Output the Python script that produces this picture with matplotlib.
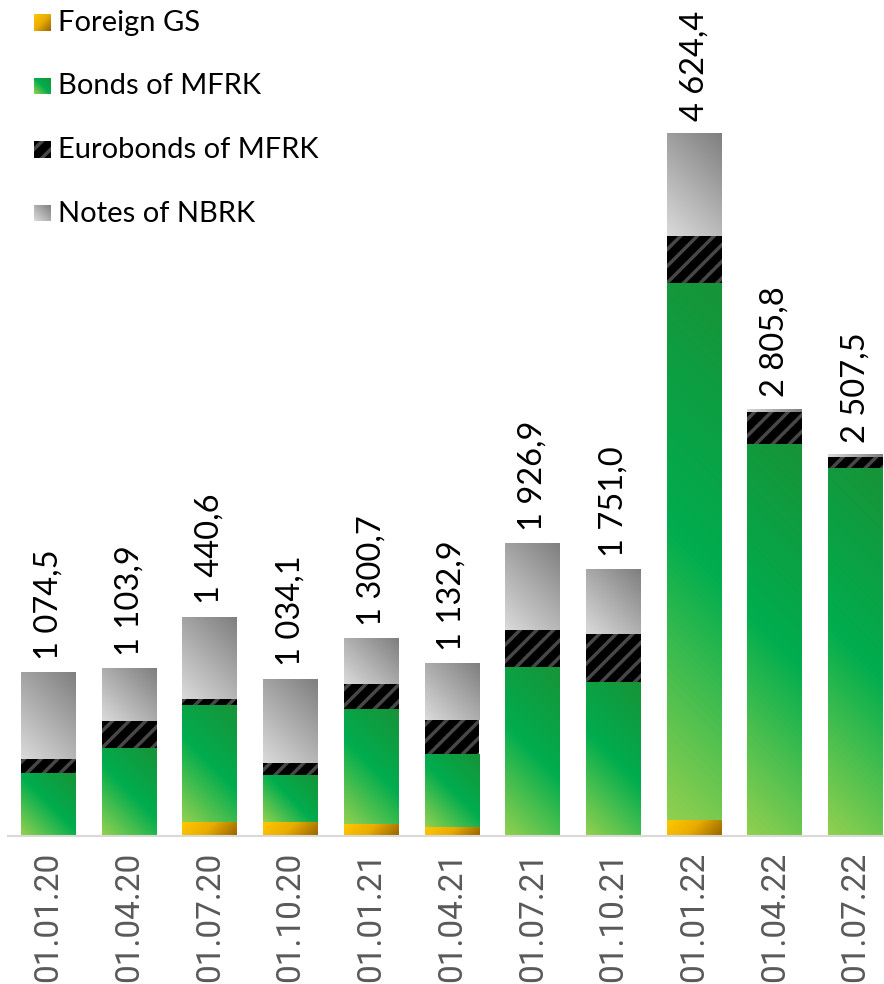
import numpy as np
import matplotlib.pyplot as plt
from matplotlib.colors import to_rgb
from matplotlib.patches import Rectangle

# data (bln tenge)
dates = ['01.01.20', '01.04.20', '01.07.20', '01.10.20', '01.01.21', '01.04.21',
         '01.07.21', '01.10.21', '01.01.22', '01.04.22', '01.07.22']
totals = [1074.5, 1103.9, 1440.6, 1034.1, 1300.7, 1132.9, 1926.9, 1751.0, 4624.4, 2805.8, 2507.5]
foreign_gs = [0, 0, 86, 92, 76, 59, 0, 0, 99, 0, 0]
bonds_mfrk = [415, 577, 777, 310, 758, 481, 1110, 1011, 3542, 2580, 2423]
eurobonds_mfrk = [92, 178, 40, 79, 165, 222, 244, 316, 310, 211, 69]
notes_nbrk = [567, 349, 538, 553, 302, 371, 573, 424, 673, 15, 16]

green_stops = [(0, '#92d050'), (0.5, '#00ad4e'), (1, '#189338')]
gray_stops = [(0, '#dadada'), (1, '#7f7f7f')]
yellow_stops = [(0, '#ffc800'), (0.5, '#e8ac00'), (1, '#9a6800')]

plt.rcParams['hatch.linewidth'] = 2.5


def gradient(w, h, stops, flip=False):
    w = max(int(round(w)), 2)
    h = max(int(round(h)), 2)
    xx, yy = np.meshgrid(np.arange(w), np.arange(h))
    if flip:
        yy = h - 1 - yy
    t = (xx + yy) / (w + h - 2)
    pos = [s[0] for s in stops]
    cols = np.array([to_rgb(s[1]) for s in stops])
    return np.stack([np.interp(t, pos, cols[:, k]) for k in range(3)], axis=-1)


fig = plt.figure(figsize=(8.84, 9.84), dpi=100)
ax = fig.add_axes([8.15 / 884, 148.5 / 984, 887.7 / 884, 835.5 / 984])
ax.set_xlim(-0.5, 10.5)
ax.set_ylim(0, 5507)

x = np.arange(len(dates))
width = 0.68


def grad_seg(xc, y0, h, stops, flip=False):
    if h <= 0:
        return
    x0, x1 = xc - width / 2, xc + width / 2
    (px0, py0), (px1, py1) = ax.transData.transform([(x0, y0), (x1, y0 + h)])
    img = gradient(px1 - px0, py1 - py0, stops, flip)
    ax.imshow(img, extent=[x0, x1, y0, y0 + h], origin='lower', aspect='auto',
              interpolation='bilinear', zorder=2)


for i in x:
    b0 = 0
    grad_seg(i, b0, foreign_gs[i], yellow_stops, flip=True)
    b0 += foreign_gs[i]
    grad_seg(i, b0, bonds_mfrk[i], green_stops)
    b0 += bonds_mfrk[i] + eurobonds_mfrk[i]
    grad_seg(i, b0, notes_nbrk[i], gray_stops)

euro_bottom = np.array(foreign_gs) + np.array(bonds_mfrk)
ax.bar(x, eurobonds_mfrk, width, bottom=euro_bottom, color='black',
       edgecolor='#474747', hatch='//', linewidth=0, zorder=2)

ax.set_xlim(-0.5, 10.5)
ax.set_ylim(0, 5507)

# value labels
for i, v in enumerate(totals):
    s = f"{v:,.1f}".replace(',', ' ').replace('.', ',')
    ax.annotate(s, (i, v), xytext=(0, 9), textcoords='offset points', rotation=90,
                ha='center', va='bottom', fontsize=23.5, family='Lato', color='black')

for side in ['top', 'left', 'right']:
    ax.spines[side].set_visible(False)
ax.spines['bottom'].set_color('#d9d9d9')
ax.spines['bottom'].set_linewidth(1.5)
ax.set_yticks([])
ax.set_xticks(x)
ax.set_xticklabels(dates, rotation=90, fontsize=24, color='#595959',
                   family='Roboto')
ax.tick_params(axis='x', length=0, pad=12)
ax.patch.set_alpha(0)

# legend drawn by hand
legend_items = [('Foreign GS', yellow_stops, True), ('Bonds of MFRK', green_stops, False),
                ('Eurobonds of MFRK', None, False), ('Notes of NBRK', gray_stops, False)]
for k, (label, stops, flip) in enumerate(legend_items):
    base = 31 + k * 63.5
    lax = fig.add_axes([34 / 884, 1 - base / 984, 17 / 884, 17 / 984])
    lax.set_axis_off()
    if stops is None:
        lax.add_patch(Rectangle((0, 0), 1, 1, facecolor='black', edgecolor='#474747',
                                hatch='//', linewidth=0))
        lax.set_xlim(0, 1)
        lax.set_ylim(0, 1)
    else:
        lax.imshow(gradient(17, 17, stops, flip), origin='lower', aspect='auto',
                   extent=[0, 1, 0, 1], interpolation='bilinear')
    fig.text(58 / 884, 1 - base / 984, label, va='baseline', ha='left',
             fontsize=21, family='Lato', color='black')

fig.savefig('out.png', dpi=100)
